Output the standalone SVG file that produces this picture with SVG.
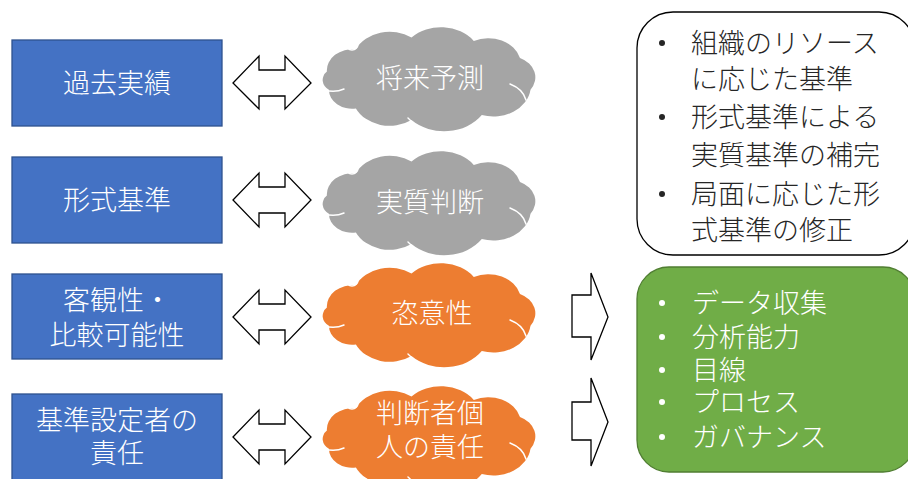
<svg xmlns="http://www.w3.org/2000/svg" xmlns:xlink="http://www.w3.org/1999/xlink" width="908" height="479" viewBox="0 0 908 479">
<style>
.box{fill:#4472C4;stroke:#2F528F;stroke-width:1.3}
.t{font-family:"Noto Sans CJK JP","Noto Sans CJK SC",sans-serif;font-size:27px;font-weight:300}
.w{fill:#FFFFFF}
.k{fill:#262626}
.c{text-anchor:middle}
.arr{fill:#FFFFFF;stroke:#000000;stroke-width:1.3;stroke-linejoin:miter}
.inner{fill:none;stroke:#FFFFFF;stroke-width:1.5;stroke-linecap:round}
</style>
<defs>
<path id="cloud" d="M4.9 44.6 A25.8 21.2 0 0 1 33.9 22.3 A37.4 30.6 0 0 1 89.5 10.6 A40.7 33.4 0 0 1 151.8 13.9 A32.9 27 0 0 1 198 30.9 A26 21.3 0 0 1 208.5 62.7 A37.5 30.8 0 0 1 159.8 88.1 A45.9 37.6 0 0 1 89.5 93.1 A37.4 30.6 0 0 1 33.9 81.4 A23.1 18.9 0 0 1 6.9 62.7 A14.4 11.8 0 0 1 4.9 44.6 Z"/>
<g id="cloudlines">
<path class="inner" d="M188 57 Q201 62 204 73"/>
<path class="inner" d="M2 63 Q13 66 22 62"/>
<path class="inner" d="M86 91 Q92 96 93 103"/>
<circle class="inner" cx="30" cy="17" r="6"/>
<circle class="inner" cx="29" cy="16" r="2.5"/>
</g>
</defs>

<g id="n-kako"><rect class="box" x="12" y="40" width="210" height="86"/><text class="t w c" x="117" y="93">過去実績</text></g>
<g id="n-keishiki"><rect class="box" x="12" y="157" width="210" height="86"/><text class="t w c" x="117" y="210">形式基準</text></g>
<g id="n-kyakkan"><rect class="box" x="12" y="274" width="210" height="85"/><text class="t w c" x="117" y="310">客観性・</text><text class="t w c" x="117" y="345">比較可能性</text></g>
<g id="n-sekinin"><rect class="box" x="12" y="394" width="210" height="90"/><text class="t w c" x="117" y="430">基準設定者の</text><text class="t w c" x="117" y="463">責任</text></g>

<g id="c-shorai" transform="translate(322,27)"><use href="#cloud" fill="#A5A5A5"/><use href="#cloudlines"/><text class="t w c" x="108" y="61">将来予測</text></g>
<g id="c-jisshitsu" transform="translate(322,151)"><use href="#cloud" fill="#A5A5A5"/><use href="#cloudlines"/><text class="t w c" x="108" y="61">実質判断</text></g>
<g id="c-shii" transform="translate(322,263)"><use href="#cloud" fill="#ED7D31"/><use href="#cloudlines"/><text class="t w c" x="110" y="60">恣意性</text></g>
<g id="c-handan" transform="translate(322,386)"><use href="#cloud" fill="#ED7D31"/><use href="#cloudlines"/><text class="t w c" x="108" y="37">判断者個</text><text class="t w c" x="108" y="71">人の責任</text></g>

<g id="n-resource"><rect x="637" y="12" width="278" height="243" rx="36" fill="#FFFFFF" stroke="#000000" stroke-width="1.3"/>
<circle cx="662" cy="43" r="3" fill="#262626"/><text class="t k" x="691" y="53">組織のリソース</text>
<text class="t k" x="691" y="89">に応じた基準</text>
<circle cx="662" cy="117" r="3" fill="#262626"/><text class="t k" x="691" y="127">形式基準による</text>
<text class="t k" x="691" y="165">実質基準の補完</text>
<circle cx="662" cy="194" r="3" fill="#262626"/><text class="t k" x="691" y="204">局面に応じた形</text>
<text class="t k" x="691" y="240">式基準の修正</text>
</g>

<g id="n-green"><rect x="637" y="267" width="278" height="205" rx="32" fill="#70AD47" stroke="#507E32" stroke-width="1.3"/>
<circle cx="662" cy="303" r="3" fill="#FFFFFF"/><text class="t w" x="692" y="313">データ収集</text>
<circle cx="662" cy="337" r="3" fill="#FFFFFF"/><text class="t w" x="692" y="347">分析能力</text>
<circle cx="662" cy="370" r="3" fill="#FFFFFF"/><text class="t w" x="692" y="380">目線</text>
<circle cx="662" cy="402" r="3" fill="#FFFFFF"/><text class="t w" x="692" y="412">プロセス</text>
<circle cx="662" cy="437" r="3" fill="#FFFFFF"/><text class="t w" x="692" y="447">ガバナンス</text>
</g>

<g id="connectors">
<polygon class="arr" points="233,83 259,56 259,70 285,70 285,56 311,83 285,109 285,96 259,96 259,109"/>
<polygon class="arr" points="233,200 259,173 259,187 285,187 285,173 311,200 285,227 285,213 259,213 259,227"/>
<polygon class="arr" points="233,317 259,290 259,304 285,304 285,290 311,317 285,344 285,330 259,330 259,344"/>
<polygon class="arr" points="233,437 259,410 259,424 285,424 285,410 311,437 285,464 285,450 259,450 259,464"/>
<polygon class="arr" points="572,295 591,295 591,273 608,317 591,360 591,337 572,337"/>
<polygon class="arr" points="572,402 591,402 591,378 608,422 591,466 591,440 572,440"/>
</g>
</svg>
